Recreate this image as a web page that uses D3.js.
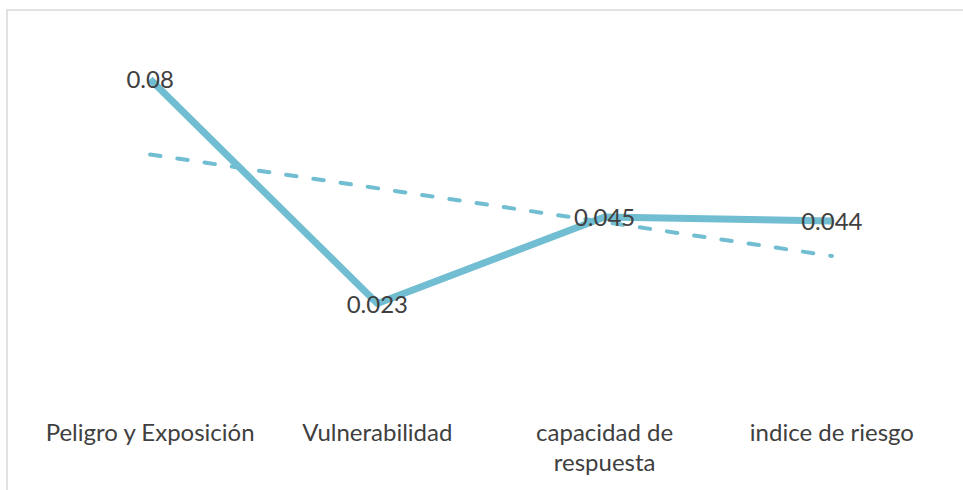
<!DOCTYPE html>
<html>
<head>
<meta charset="utf-8">
<script src="https://cdn.jsdelivr.net/npm/d3@7"></script>
<style>
  html, body { margin: 0; padding: 0; background: #fff; }
  svg { display: block; }
</style>
</head>
<body>
<svg id="chart" width="963" height="490"></svg>
<script>
// datos del grafico
const categories = ['Peligro y Exposición', 'Vulnerabilidad', 'capacidad de respuesta', 'indice de riesgo']
const values = [0.08, 0.023, 0.045, 0.044]
const valueLabels = ['0.08', '0.023', '0.045', '0.044']

const width = 963, height = 490
const lineColor = '#71BDD1'
const textColor = '#404040'
const fontFamily = 'Lato, "Open Sans", sans-serif'
const fontSize = 24

const svg = d3.select('#chart')

// marco del area del grafico (se sale por la derecha y abajo)
svg.append('rect')
    .attr('x', 7)
    .attr('y', 10)
    .attr('width', 1000)
    .attr('height', 600)
    .attr('fill', 'none')
    .attr('stroke', '#D9D9D9')
    .attr('stroke-width', 1.5)

let x = d3.scaleBand()
    .domain(categories)
    .range([36.5, 945.5])
    .padding(0)

let y = d3.scaleLinear()
    .domain([0, 0.09])
    .range([394, 40])

let cx = function (d) { return x(d) + x.bandwidth() / 2 }

// linea de tendencia lineal (minimos cuadrados)
let xs = d3.range(1, values.length + 1)
let mx = d3.mean(xs), my = d3.mean(values)
let slope = d3.sum(xs, (v, i) => (v - mx) * (values[i] - my)) / d3.sum(xs, v => (v - mx) * (v - mx))
let intercept = my - slope * mx
let trendPts = [
    [cx(categories[0]), y(intercept + slope * 1)],
    [cx(categories[categories.length - 1]), y(intercept + slope * values.length)]
]

svg.append('path')
    .attr('d', d3.line()(trendPts))
    .attr('fill', 'none')
    .attr('stroke', lineColor)
    .attr('stroke-width', 4)
    .attr('stroke-linecap', 'round')
    .attr('stroke-dasharray', '10.5,17')

// serie principal
let line = d3.line()
    .x((d, i) => cx(categories[i]))
    .y(d => y(d))

svg.append('path')
    .datum(values)
    .attr('d', line)
    .attr('fill', 'none')
    .attr('stroke', lineColor)
    .attr('stroke-width', 7)
    .attr('stroke-linejoin', 'round')

// etiquetas de datos centradas en el punto
svg.selectAll('.dlabel')
    .data(values)
    .enter()
    .append('text')
    .attr('class', 'dlabel')
    .attr('x', (d, i) => cx(categories[i]))
    .attr('y', d => y(d))
    .attr('dy', '0.38em')
    .attr('text-anchor', 'middle')
    .attr('font-family', fontFamily)
    .attr('font-size', fontSize)
    .attr('fill', textColor)
    .text((d, i) => valueLabels[i])

// eje x (sin linea) con etiquetas que se parten en varias lineas
let xAxis = svg.append('g')
    .attr('transform', 'translate(0,' + y(0) + ')')
    .call(d3.axisBottom(x).tickSize(0).tickPadding(0))

xAxis.select('.domain').remove()

xAxis.selectAll('.tick text')
    .attr('font-family', fontFamily)
    .attr('font-size', fontSize)
    .attr('fill', textColor)
    .attr('y', 47)
    .attr('dy', 0)
    .each(function (d) {
        let text = d3.select(this)
        let words = d.split(' ')
        text.text(null)
        let lines = []
        let current = []
        let tspan = text.append('tspan')
        words.forEach(function (w) {
            current.push(w)
            tspan.text(current.join(' '))
            if (tspan.node().getComputedTextLength() > x.bandwidth() - 10 && current.length > 1) {
                current.pop()
                lines.push(current.join(' '))
                current = [w]
            }
        })
        lines.push(current.join(' '))
        text.text(null)
        lines.forEach(function (l, i) {
            text.append('tspan')
                .attr('x', 0)
                .attr('y', 47 + i * 30)
                .text(l)
        })
    })
</script>
</body>
</html>
